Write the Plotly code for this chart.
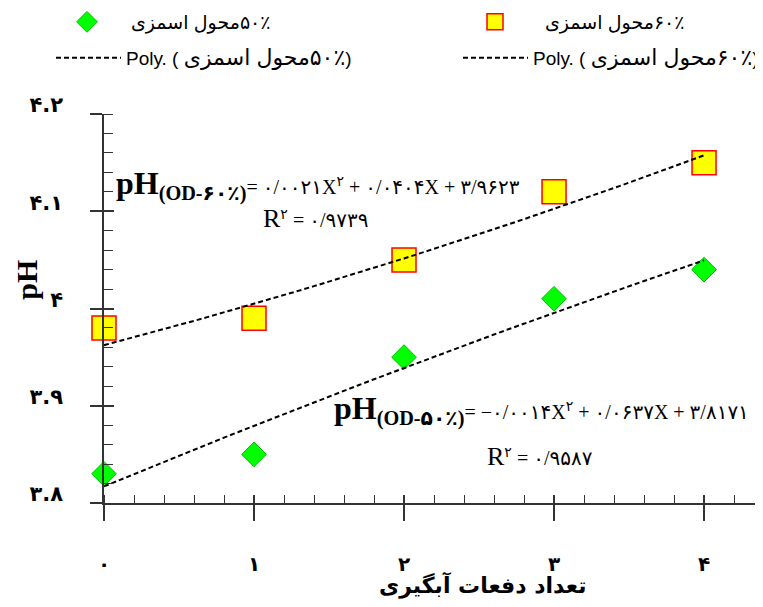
import numpy as np
import plotly.graph_objects as go

# داده‌ها
x_vals = [0, 1, 2, 3, 4]
ph_60 = [3.98, 3.99, 4.05, 4.12, 4.15]
ph_50 = [3.83, 3.85, 3.95, 4.01, 4.04]

# ضرایب خط روند (از معادله روی نمودار)
coef_60 = [0.0021, 0.0404, 3.9623]
coef_50 = [-0.0014, 0.0637, 3.8171]

y_ticks = [3.8, 3.9, 4.0, 4.1, 4.2]
y_ticktext = ["۳.۸", "۳.۹", "۴", "۴.۱", "۴.۲"]
x_ticks = [0, 1, 2, 3, 4]
x_ticktext = ["۰", "۱", "۲", "۳", "۴"]

LRM = "\u200e"
name_50 = "محول اسمزی" + LRM + "۵۰٪"
name_60 = "محول اسمزی" + LRM + "۶۰٪"
poly_50 = ("Poly. ( <span style='font-size:22px'>محول اسمزی" + LRM
           + "۵۰٪</span>)")
poly_60 = ("Poly. ( <span style='font-size:22px'>محول اسمزی" + LRM
           + "۶۰٪</span>)")

eq_60 = ("<span style='font-size:32px'><b>pH</b></span>"
         "<span style='font-size:29px'><sub><b>(OD-۶۰٪)</b></sub></span>"
         "= ۰/۰۰۲۱X<sup>۲</sup> + ۰/۰۴۰۴X + ۳/۹۶۲۳")
r2_60 = "<span style='font-size:26px'>R</span><sup>۲</sup> = ۰/۹۷۳۹"
eq_50 = ("<span style='font-size:32px'><b>pH</b></span>"
         "<span style='font-size:29px'><sub><b>(OD-۵۰٪)</b></sub></span>"
         "= −۰/۰۰۱۴X<sup>۲</sup> + ۰/۰۶۳۷X + ۳/۸۱۷۱")
r2_50 = "<span style='font-size:26px'>R</span><sup>۲</sup> = ۰/۹۵۸۷"

x_title = "تعداد دفعات آبگیری"

trend_x = np.linspace(0, 4, 41)
dash_style = dict(color="black", width=2, dash="5px,3px")

fig = go.Figure()

fig.add_trace(go.Scatter(
    x=x_vals, y=ph_50, mode="markers", name=name_50, legend="legend",
    marker=dict(symbol="diamond", size=19, color="#00FF00",
                line=dict(color="#00C000", width=1)),
    cliponaxis=False))
fig.add_trace(go.Scatter(
    x=x_vals, y=ph_60, mode="markers", name=name_60, legend="legend2",
    marker=dict(symbol="square", size=24, color="#FFFF00",
                line=dict(color="#FF0000", width=1.5)),
    cliponaxis=False))
fig.add_trace(go.Scatter(
    x=trend_x, y=np.polyval(coef_50, trend_x), mode="lines", name=poly_50,
    legend="legend3", line=dash_style))
fig.add_trace(go.Scatter(
    x=trend_x, y=np.polyval(coef_60, trend_x), mode="lines", name=poly_60,
    legend="legend4", line=dash_style))

# trace خالی برای محورهای روی‌هم (تیک‌های داخلی اصلی)
fig.add_trace(go.Scatter(x=[], y=[], xaxis="x2", yaxis="y2",
                         showlegend=False, hoverinfo="skip"))

axis_col = "#333333"
x_range = [0, 4.393]
y_range = [3.8, 4.2]


def legend_box(x_px, y_px, iw, size):
    # صفحه مرورگر ۸ پیکسل حاشیه دارد
    return dict(orientation="h", xref="container", yref="container",
                x=x_px / 763, y=1 - (y_px - 8) / 607, xanchor="left",
                yanchor="middle", itemwidth=iw,
                font=dict(family="Arial, DejaVu Sans", size=size),
                bgcolor="rgba(0,0,0,0)")


fig.update_layout(
    width=763, height=607,
    margin=dict(l=96, r=8, t=106, b=112, autoexpand=False),
    plot_bgcolor="white", paper_bgcolor="white",
    font=dict(family="DejaVu Sans", color="black"),
    xaxis=dict(range=x_range, showgrid=False, zeroline=False, automargin=False,
               showline=True, linecolor=axis_col, linewidth=1.5,
               tickmode="array", tickvals=x_ticks, ticktext=x_ticktext,
               ticks="outside", ticklen=16, tickwidth=1.5, tickcolor=axis_col,
               ticklabelstandoff=26,
               tickfont=dict(family="DejaVu Sans", size=20, color="black",
                             weight="bold"),
               minor=dict(dtick=0.2, ticks="inside", ticklen=8,
                          tickwidth=1.2, tickcolor=axis_col)),
    yaxis=dict(range=y_range, showgrid=False, zeroline=False, automargin=False,
               showline=True, linecolor=axis_col, linewidth=1.5,
               tickmode="array", tickvals=y_ticks, ticktext=y_ticktext,
               ticks="outside", ticklen=12, tickwidth=1.5, tickcolor=axis_col,
               ticklabelstandoff=23, ticklabelshift=-9,
               tickfont=dict(family="DejaVu Sans", size=21, color="black",
                             weight="bold"),
               minor=dict(dtick=0.02, ticks="inside", ticklen=9,
                          tickwidth=1.2, tickcolor=axis_col)),
    xaxis2=dict(range=x_range, overlaying="x", anchor="y2", side="bottom",
                showgrid=False, zeroline=False, showline=False, automargin=False,
                tickmode="array", tickvals=x_ticks, showticklabels=False,
                ticks="inside", ticklen=8, tickwidth=1.5, tickcolor=axis_col),
    yaxis2=dict(range=y_range, overlaying="y", anchor="x2", side="left",
                showgrid=False, zeroline=False, showline=False, automargin=False,
                tickmode="array", tickvals=y_ticks, showticklabels=False,
                ticks="inside", ticklen=10, tickwidth=1.5, tickcolor=axis_col),
    legend=legend_box(35, 22, 78, 19),
    legend2=legend_box(437, 22, 90, 19),
    legend3=legend_box(43, 58, 65, 19),
    legend4=legend_box(450, 58, 65, 19),
    showlegend=True,
)

annots = [
    dict(text=eq_60, x=0.0155, y=0.8175, xanchor="left",
         font=dict(family="Liberation Serif, DejaVu Sans", size=20)),
    dict(text=r2_60, x=0.2375, y=0.7326, xanchor="left",
         font=dict(family="Liberation Serif, DejaVu Sans", size=20)),
    dict(text=eq_50, x=0.3465, y=0.239, xanchor="left",
         font=dict(family="Liberation Serif, DejaVu Sans", size=20)),
    dict(text=r2_50, x=0.5785, y=0.1208, xanchor="left",
         font=dict(family="Liberation Serif, DejaVu Sans", size=20)),
    dict(text="<b>" + x_title + "</b>", x=0.5736, y=-0.211,
         font=dict(family="DejaVu Sans", size=22)),
    dict(text="<b>pH</b>", x=-0.1456, y=0.573, textangle=-90,
         font=dict(family="Liberation Serif", size=30)),
]
for a in annots:
    fig.add_annotation(xref="paper", yref="paper", showarrow=False,
                       yanchor="middle", **a)

fig.write_html("out.html")
